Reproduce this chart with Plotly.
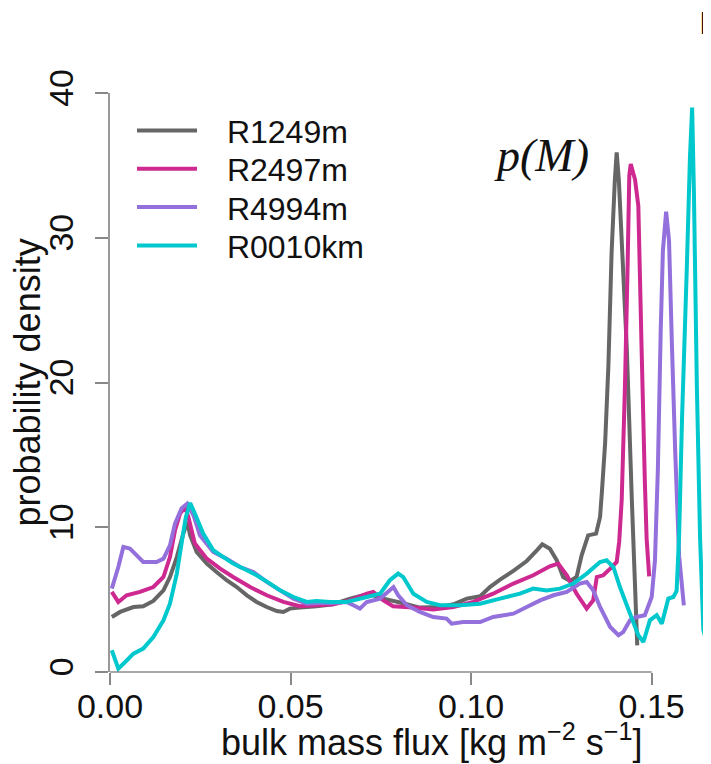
import plotly.graph_objects as go

# ---- data ----
x_r1249 = [0.0005, 0.0028, 0.0065, 0.0092, 0.0120, 0.0148, 0.0166, 0.0185, 0.0203, 0.0214,
           0.0222, 0.0240, 0.0268, 0.0295, 0.0323, 0.0351, 0.0379, 0.0406, 0.0434, 0.0462,
           0.0480, 0.0498, 0.0526, 0.0572, 0.0618, 0.0665, 0.0701, 0.0729, 0.0757, 0.0803,
           0.0858, 0.0914, 0.0951, 0.0988, 0.1025, 0.1052, 0.1080, 0.1117, 0.1154, 0.1182,
           0.1197, 0.1218, 0.1237, 0.1255, 0.1274, 0.1292, 0.1306, 0.1324, 0.1346, 0.1357,
           0.1362, 0.1371, 0.1380, 0.1389, 0.1398, 0.1403, 0.1409, 0.1417, 0.1431, 0.1445,
           0.1460]
y_r1249 = [3.80, 4.15, 4.49, 4.54, 4.91, 5.64, 6.56, 7.94, 9.56, 10.36,
           9.44, 8.29, 7.49, 6.91, 6.34, 5.87, 5.30, 4.84, 4.49, 4.21,
           4.15, 4.38, 4.45, 4.54, 4.68, 5.07, 5.30, 5.30, 5.07, 4.80,
           4.45, 4.49, 4.68, 5.07, 5.23, 5.87, 6.38, 6.98, 7.67, 8.41,
           8.82, 8.52, 7.72, 6.56, 6.29, 6.56, 8.06, 9.44, 9.56, 10.71,
           12.4, 15.8, 21.1, 29.0, 34.0, 35.9, 34.0, 29.8, 22.4, 11.9,
           1.84]

x_r2497 = [0.0005, 0.0023, 0.0046, 0.0083, 0.0120, 0.0148, 0.0166, 0.0180, 0.0194, 0.0208,
           0.0217, 0.0235, 0.0268, 0.0305, 0.0341, 0.0388, 0.0434, 0.0480, 0.0526, 0.0572,
           0.0618, 0.0665, 0.0711, 0.0729, 0.0757, 0.0784, 0.0840, 0.0895, 0.0951, 0.1006,
           0.1061, 0.1117, 0.1172, 0.1218, 0.1241, 0.1265, 0.1292, 0.1320, 0.1338, 0.1348,
           0.1366, 0.1385, 0.1403, 0.1410, 0.1417, 0.1426, 0.1433, 0.1438, 0.1442, 0.1454,
           0.1463, 0.1472, 0.1481, 0.1486, 0.1493]
y_r2497 = [5.53, 4.84, 5.30, 5.53, 5.87, 6.56, 7.94, 9.79, 10.94, 11.40,
           10.71, 8.87, 7.83, 7.14, 6.56, 5.87, 5.30, 4.84, 4.54, 4.61,
           4.68, 4.95, 5.41, 5.53, 4.95, 4.54, 4.45, 4.31, 4.49, 4.84,
           5.41, 6.11, 6.68, 7.30, 7.49, 6.68, 5.41, 4.38, 4.95, 6.56,
           6.68, 7.14, 7.60, 9.0, 11.9, 19.8, 27.7, 34.3, 35.1, 34.0,
           32.2, 22.4, 13.2, 9.2, 6.6]

x_r4994 = [0.0005, 0.0023, 0.0037, 0.0055, 0.0074, 0.0092, 0.0129, 0.0148, 0.0166, 0.0180,
           0.0198, 0.0214, 0.0231, 0.0249, 0.0286, 0.0323, 0.0360, 0.0397, 0.0434, 0.0471,
           0.0508, 0.0545, 0.0581, 0.0618, 0.0655, 0.0674, 0.0692, 0.0711, 0.0748, 0.0785,
           0.0798, 0.0822, 0.0858, 0.0895, 0.0932, 0.0946, 0.0978, 0.1025, 0.1061, 0.1117,
           0.1154, 0.1191, 0.1228, 0.1265, 0.1301, 0.1320, 0.1338, 0.1357, 0.1385, 0.1408,
           0.1421, 0.1440, 0.1458, 0.1481, 0.1500, 0.1509, 0.1517, 0.1525, 0.1531, 0.1540,
           0.1548, 0.1556, 0.1565, 0.1576, 0.1589]
y_r4994 = [5.76, 7.25, 8.64, 8.52, 8.06, 7.60, 7.60, 7.83, 8.75, 10.25,
           11.29, 11.63, 10.83, 9.44, 8.29, 7.83, 7.25, 6.91, 6.22, 5.64,
           5.07, 4.72, 4.77, 4.77, 4.84, 4.61, 4.38, 4.84, 5.07, 5.87,
           5.30, 4.61, 4.15, 3.80, 3.69, 3.34, 3.45, 3.45, 3.80, 4.03,
           4.49, 4.95, 5.30, 5.53, 6.11, 6.22, 5.64, 4.49, 3.11, 2.54,
           2.76, 3.57, 3.80, 3.92, 5.18, 7.7, 13.9, 23.6, 29.1, 31.8,
           29.8, 22.6, 15.3, 8.0, 4.6]

x_r0010 = [0.0005, 0.0023, 0.0042, 0.0065, 0.0092, 0.0120, 0.0148, 0.0166, 0.0185, 0.0198,
           0.0210, 0.0222, 0.0235, 0.0258, 0.0286, 0.0314, 0.0341, 0.0379, 0.0406, 0.0443,
           0.0471, 0.0508, 0.0545, 0.0572, 0.0609, 0.0655, 0.0711, 0.0748, 0.0775, 0.0798,
           0.0812, 0.0840, 0.0877, 0.0914, 0.0969, 0.1025, 0.1080, 0.1135, 0.1172, 0.1209,
           0.1246, 0.1283, 0.1320, 0.1357, 0.1375, 0.1394, 0.1412, 0.1440, 0.1463, 0.1477,
           0.1495, 0.1514, 0.1528, 0.1546, 0.1560, 0.1569, 0.1576, 0.1584, 0.1597, 0.1606,
           0.1612, 0.1617, 0.1625, 0.1634, 0.1643, 0.1652, 0.1664]
y_r0010 = [1.50, 0.23, 0.69, 1.27, 1.62, 2.42, 3.57, 4.72, 6.80, 8.87,
           10.71, 11.68, 10.94, 9.56, 8.41, 7.94, 7.49, 7.03, 6.68, 6.11,
           5.64, 5.18, 4.84, 4.91, 4.84, 4.84, 5.18, 5.41, 6.34, 6.80,
           6.56, 5.41, 4.84, 4.61, 4.61, 4.72, 5.07, 5.41, 5.76, 5.64,
           5.76, 6.11, 6.80, 7.60, 7.72, 7.25, 5.87, 4.03, 2.54, 2.07,
           3.57, 3.92, 3.34, 5.07, 5.18, 5.6, 9.5, 17.5, 27.7, 35.6,
           39.0, 33.0, 19.8, 9.2, 2.9, 2.1, 1.3]

series_names = ["R1249m", "R2497m", "R4994m", "R0010km"]
series_x = [x_r1249, x_r2497, x_r4994, x_r0010]
series_y = [y_r1249, y_r2497, y_r4994, y_r0010]
series_colors = ["#666666", "#CD2990", "#9370DB", "#00C8CC"]

x_ticks = [0.00, 0.05, 0.10, 0.15]
x_tick_labels = ["0.00", "0.05", "0.10", "0.15"]
y_ticks = [0, 10, 20, 30, 40]
y_tick_labels = ["0", "10", "20", "30", "40"]

# page has an 8px body margin: figure is drawn at page offset (8, 8)
OFF = 8
W, H = 711 - OFF, 764 - OFF
L, R, T, B = 102, 0, 85, 92
PW, PH = W - L - R, H - T - B
FONT = "Liberation Sans, Arial, Helvetica, sans-serif"


def px_x(p):
    """page pixel x -> paper fraction"""
    return (p - OFF - L) / PW


def px_y(p):
    """page pixel y -> paper fraction"""
    return (H - B - (p - OFF)) / PH


legend_ids = ["legend", "legend2", "legend3", "legend4"]
legend_rows = [130.7, 169.0, 207.3, 245.7]

fig = go.Figure()
for name, xs, ys, col, lid in zip(series_names, series_x, series_y, series_colors, legend_ids):
    fig.add_trace(go.Scatter(x=xs, y=ys, mode="lines", name="\u2002\u00a0" + name,
                             legend=lid,
                             line=dict(color=col, width=4, simplify=False)))

legend_layout = {}
for lid, row in zip(legend_ids, legend_rows):
    legend_layout[lid] = dict(x=px_x(132), y=px_y(row), xanchor="left", yanchor="middle",
                              bgcolor="rgba(0,0,0,0)", borderwidth=0,
                              font=dict(size=32, family=FONT, color="#111111"),
                              itemwidth=60)

fig.update_layout(
    width=W, height=H,
    margin=dict(l=L, r=R, t=T, b=B, pad=0, autoexpand=False),
    paper_bgcolor="white", plot_bgcolor="white",
    font=dict(family=FONT, size=32, color="#111111"),
    showlegend=True,
    xaxis=dict(range=[0, PW / 3611.3], showgrid=False, zeroline=False, showline=False,
               tickmode="array", tickvals=x_ticks, ticktext=x_tick_labels,
               ticks="outside", ticklen=12, tickwidth=1.5, tickcolor="#888888",
               ticklabelstandoff=-8,
               tickfont=dict(size=34, family=FONT, color="#111111")),
    yaxis=dict(range=[0, 40], showgrid=False, zeroline=False, showline=True,
               linecolor="#999999", linewidth=2,
               tickmode="array", tickvals=y_ticks, ticktext=y_tick_labels,
               ticks="outside", ticklen=13, tickwidth=1.5, tickcolor="#888888",
               tickangle=-90, ticklabelstandoff=8,
               tickfont=dict(size=34, family=FONT, color="#111111")),
    shapes=[dict(type="line", xref="x", yref="paper", x0=0, x1=0.15, y0=0, y1=0,
                 line=dict(color="#555555", width=1.2), layer="above")],
    annotations=[
        dict(text="probability density", xref="paper", yref="y", x=px_x(27), y=20,
             xanchor="center", yanchor="middle", textangle=-90, showarrow=False,
             font=dict(size=36, family=FONT, color="#111111")),
        dict(text="bulk mass flux [kg m<sup>\u22122</sup> s<sup>\u22121</sup>]",
             xref="paper", yref="paper", x=px_x(432), y=px_y(740),
             xanchor="center", yanchor="middle", showarrow=False,
             font=dict(size=36, family=FONT, color="#111111")),
        dict(text="<i>p(M)</i>", xref="paper", yref="paper", x=px_x(541),
             y=px_y(155), xanchor="center", yanchor="middle",
             showarrow=False,
             font=dict(size=46, family="Liberation Serif, Times New Roman, serif",
                       color="#111111")),
        dict(text="lo", xref="paper", yref="paper", x=px_x(698),
             y=px_y(24), xanchor="left", yanchor="middle", showarrow=False,
             font=dict(size=29, family=FONT, color="#000000")),
    ],
)
fig.update_layout(**legend_layout)

fig.write_html("out.html")
